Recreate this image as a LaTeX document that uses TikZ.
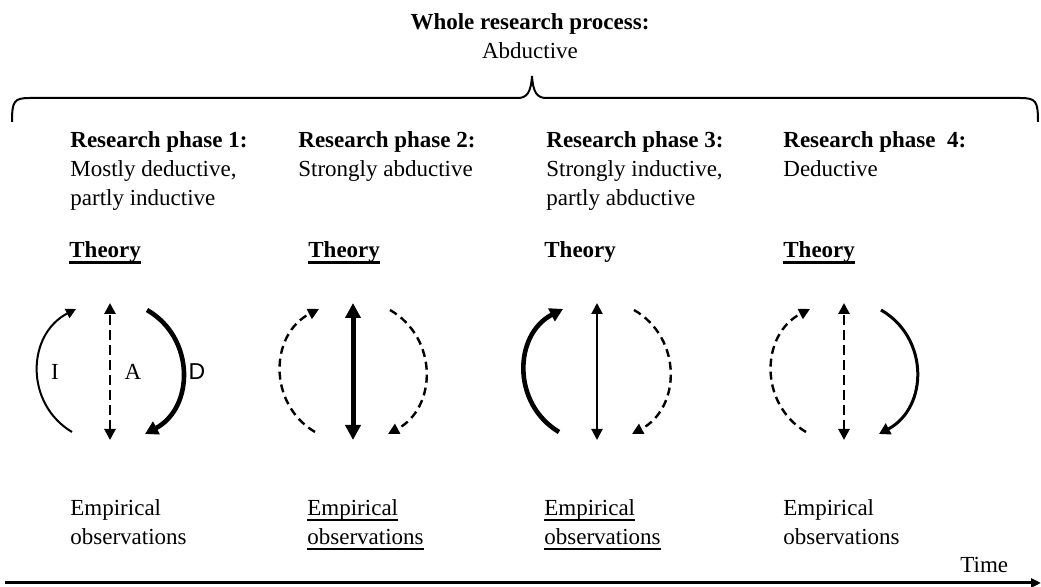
\documentclass[tikz,border=0pt]{standalone}
\usepackage{fontspec}
\setmainfont{Liberation Serif}
\newfontfamily\labelsans{Liberation Sans}
\usetikzlibrary{arrows.meta}

\newcommand{\barunder}[2][1pt]{\setbox0\hbox{#2}\rlap{\rule[-2.8pt]{\wd0}{#1}}\box0}

\begin{document}
\begin{tikzpicture}[x=0.5pt, y=-0.5pt,
    every node/.style={font=\fontsize{11.5}{14.5}\selectfont, inner sep=0pt},
    phase/.style={anchor=north west, align=left},
    lightline/.style={line width=1pt, -{Triangle[length=5pt, width=5pt]}},
    midline/.style={line width=1.5pt, -{Triangle[length=5.5pt, width=6pt]}},
    heavyline/.style={line width=2.3pt, -{Triangle[length=6.5pt, width=7pt]}},
    dashline/.style={line width=1.2pt, dash pattern=on 4pt off 2.5pt, -{Triangle[length=5.5pt, width=5.5pt]}},
    dashaxis/.style={line width=1.4pt, dash pattern=on 5pt off 2.5pt},
    twoway/.style={{Triangle[length=5.5pt, width=5.5pt]}-{Triangle[length=5.5pt, width=5.5pt]}},
    arc/.style={bend left=61, looseness=1.15}
]
\useasboundingbox (0,0) rectangle (1041,587);

% heading and brace
\node[align=center, anchor=north] (whole) at (530,13) {\textbf{Whole research process:}\\Abductive};
\draw[line width=1pt] (12,122) .. controls (12,101) and (14,98) .. (30,98) -- (518,98)
    .. controls (527,98) and (531,92) .. (532,76) .. controls (533,92) and (537,98) .. (546,98)
    -- (1020,98) .. controls (1036,98) and (1038,101) .. (1038,122);

% phases
\node[phase] (ph1) at (70,131) {\textbf{Research phase 1:}\\Mostly deductive,\\partly inductive};
\node[phase] (ph2) at (298,131) {\textbf{Research phase 2:}\\Strongly abductive};
\node[phase] (ph3) at (546,131) {\textbf{Research phase 3:}\\Strongly inductive,\\partly abductive};
\node[phase] (ph4) at (783,131) {\textbf{Research phase~ 4:}\\Deductive};

\node[anchor=base west] (th1) at (69,258) {\textbf{\barunder[1.2pt]{Theory}}};
\node[anchor=base west] (th2) at (308,258) {\textbf{\barunder[1.2pt]{Theory}}};
\node[anchor=base west] (th3) at (544,258) {\textbf{Theory}};
\node[anchor=base west] (th4) at (783,258) {\textbf{\barunder[1.2pt]{Theory}}};

\node[phase] (em1) at (70,499) {Empirical\\observations};
\node[phase] (em2) at (307,499) {\barunder{Empirical}\\\barunder{observations}};
\node[phase] (em3) at (544,499) {\barunder{Empirical}\\\barunder{observations}};
\node[phase] (em4) at (783,499) {Empirical\\observations};

% arrow ends
\coordinate (ind1b) at (72,432); \coordinate (ind1t) at (76,309);
\coordinate (abd1t) at (110,303); \coordinate (abd1b) at (110,440);
\coordinate (ded1t) at (147,310); \coordinate (ded1b) at (145,434);
\coordinate (ind2b) at (315,432); \coordinate (ind2t) at (319,309);
\coordinate (abd2t) at (353,303); \coordinate (abd2b) at (353,440);
\coordinate (ded2t) at (390,310); \coordinate (ded2b) at (388,434);
\coordinate (ind3b) at (559,432); \coordinate (ind3t) at (563,309);
\coordinate (abd3t) at (597,303); \coordinate (abd3b) at (597,440);
\coordinate (ded3t) at (634,310); \coordinate (ded3b) at (632,434);
\coordinate (ind4b) at (806,432); \coordinate (ind4t) at (810,309);
\coordinate (abd4t) at (844,303); \coordinate (abd4b) at (844,440);
\coordinate (ded4t) at (881,310); \coordinate (ded4b) at (879,434);

% phase 1
\draw[lightline] (ind1b) to[arc] (ind1t);
\draw[dashaxis, twoway] (abd1b) -- (abd1t);
\draw[heavyline] (ded1t) to[arc] (ded1b);
\node (lbi) at (55,372) {I};
\node (lba) at (133,372) {A};
\node (lbd) at (197,372) {\labelsans D};
% phase 2
\draw[dashline] (ind2b) to[arc] (ind2t);
\draw[line width=2.5pt, {Triangle[length=7.5pt, width=7.5pt]}-{Triangle[length=7.5pt, width=7.5pt]}] (abd2b) -- (abd2t);
\draw[dashline] (ded2t) to[arc] (ded2b);
% phase 3
\draw[heavyline] (ind3b) to[arc] (ind3t);
\draw[line width=1.1pt, twoway] (abd3b) -- (abd3t);
\draw[dashline] (ded3t) to[arc] (ded3b);
% phase 4
\draw[dashline] (ind4b) to[arc] (ind4t);
\draw[dashaxis, twoway] (abd4b) -- (abd4t);
\draw[midline] (ded4t) to[arc] (ded4b);

% time axis
\coordinate (t0) at (5,583);
\coordinate (t1) at (1041,583);
\node[anchor=base west] (time) at (960,573) {Time};
\draw[line width=1.5pt, -{Triangle[length=5pt, width=4.5pt]}] (t0) -- (t1);
\end{tikzpicture}
\end{document}
